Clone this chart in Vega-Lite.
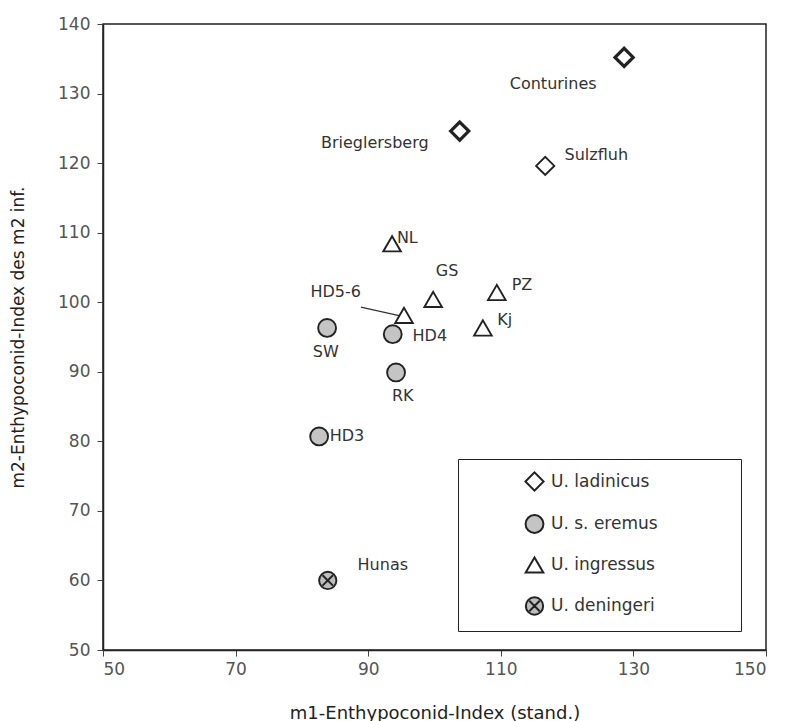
{
  "$schema": "https://vega.github.io/schema/vega-lite/v6.json",
  "width": 663,
  "height": 626,
  "autosize": "none",
  "padding": {"left": 103, "top": 24, "right": 22, "bottom": 71},
  "background": "white",
  "config": {
    "view": {"stroke": "#222", "strokeWidth": 1.5},
    "font": "DejaVu Sans",
    "axis": {
      "grid": false,
      "domainColor": "#222",
      "domainWidth": 1.5,
      "tickColor": "#444",
      "tickSize": 6,
      "labelColor": "#555",
      "labelFontSize": 17,
      "labelFont": "DejaVu Sans",
      "titleColor": "#222",
      "titleFont": "DejaVu Sans",
      "titleFontWeight": "normal"
    }
  },
  "datasets": {
    "pts": [
      {"site": "Conturines", "species": "U. ladinicus", "m1": 128.6, "m2": 135.2, "lx": 117.9, "ly": 131.4},
      {"site": "Brieglersberg", "species": "U. ladinicus", "m1": 103.8, "m2": 124.6, "lx": 91.0, "ly": 122.9},
      {"site": "Sulzfluh", "species": "U. ladinicus", "m1": 116.7, "m2": 119.6, "lx": 124.4, "ly": 121.2},
      {"site": "NL", "species": "U. ingressus", "m1": 93.6, "m2": 108.4, "lx": 95.9, "ly": 109.2},
      {"site": "GS", "species": "U. ingressus", "m1": 99.8, "m2": 100.4, "lx": 101.9, "ly": 104.5},
      {"site": "PZ", "species": "U. ingressus", "m1": 109.4, "m2": 101.4, "lx": 113.2, "ly": 102.5},
      {"site": "HD5-6", "species": "U. ingressus", "m1": 95.4, "m2": 98.1, "lx": 85.1, "ly": 101.5},
      {"site": "Kj", "species": "U. ingressus", "m1": 107.3, "m2": 96.3, "lx": 110.6, "ly": 97.4},
      {"site": "SW", "species": "U. s. eremus", "m1": 83.8, "m2": 96.3, "lx": 83.6, "ly": 92.8},
      {"site": "HD4", "species": "U. s. eremus", "m1": 93.7, "m2": 95.4, "lx": 99.3, "ly": 95.1},
      {"site": "RK", "species": "U. s. eremus", "m1": 94.2, "m2": 89.9, "lx": 95.2, "ly": 86.5},
      {"site": "HD3", "species": "U. s. eremus", "m1": 82.6, "m2": 80.7, "lx": 86.8, "ly": 80.8},
      {"site": "Hunas", "species": "U. deningeri", "m1": 83.9, "m2": 60.0, "lx": 92.2, "ly": 62.2}
    ],
    "leaders": [
      {"site": "HD5-6", "x1": 88.9, "y1": 99.3, "x2": 95.0, "y2": 98.0}
    ]
  },
  "layer": [
    {
      "data": {"name": "leaders"},
      "mark": {"type": "rule", "color": "#333", "strokeWidth": 1.2},
      "encoding": {
        "x": {"field": "x1", "type": "quantitative", "scale": {"domain": [50, 150], "nice": false, "zero": false}},
        "y": {"field": "y1", "type": "quantitative", "scale": {"domain": [50, 140], "nice": false, "zero": false}},
        "x2": {"field": "x2"},
        "y2": {"field": "y2"}
      }
    },
    {
      "data": {"name": "pts"},
      "mark": {"type": "point", "filled": false, "opacity": 1},
      "encoding": {
        "x": {
          "field": "m1", "type": "quantitative",
          "scale": {"domain": [50, 150], "nice": false, "zero": false},
          "axis": {"values": [50, 70, 90, 110, 130, 150], "title": "m1-Enthypoconid-Index (stand.)", "titleFontSize": 18, "titleY": 54, "labelPadding": 5}
        },
        "y": {
          "field": "m2", "type": "quantitative",
          "scale": {"domain": [50, 140], "nice": false, "zero": false},
          "axis": {"values": [50, 60, 70, 80, 90, 100, 110, 120, 130, 140], "title": "m2-Enthypoconid-Index des m2 inf.", "titleFontSize": 17, "titleX": -85, "titleY": 313, "titleAngle": -90, "titleAlign": "center", "titleBaseline": "middle", "labelPadding": 7}
        },
        "shape": {
          "field": "species", "type": "nominal",
          "scale": {
            "domain": ["U. ladinicus", "U. s. eremus", "U. ingressus", "U. deningeri"],
            "range": ["diamond", "circle", "triangle-up", "M-1,0A1,1,0,1,1,1,0A1,1,0,1,1,-1,0Z M-0.6,-0.6L0.6,0.6M-0.6,0.6L0.6,-0.6"]
          },
          "legend": {
            "title": "MMMM",
            "titleOrient": "right",
            "titleColor": "white",
            "titleFontSize": 16,
            "titlePadding": 7,
            "orient": "none",
            "legendX": 355,
            "legendY": 435,
            "strokeColor": "#222",
            "fillColor": "white",
            "padding": 12,
            "symbolOffset": 54,
            "symbolStrokeWidth": 2,
            "symbolStrokeColor": "#222",
            "labelFontSize": 17,
            "labelColor": "#333",
            "labelOffset": 6,
            "rowPadding": 16
          }
        },
        "fill": {
          "field": "species", "type": "nominal",
          "scale": {
            "domain": ["U. ladinicus", "U. s. eremus", "U. ingressus", "U. deningeri"],
            "range": ["white", "#c4c4c4", "white", "#bdbdbd"]
          }
        },
        "size": {
          "field": "species", "type": "nominal",
          "scale": {
            "domain": ["U. ladinicus", "U. s. eremus", "U. ingressus", "U. deningeri"],
            "range": [330, 300, 135, 220]
          }
        },
        "stroke": {"value": "#222"},
        "strokeWidth": {
          "condition": {"test": "datum.site === 'Conturines' || datum.site === 'Brieglersberg'", "value": 3.2},
          "value": 1.9
        }
      }
    },
    {
      "data": {"name": "pts"},
      "mark": {"type": "text", "fontSize": 16, "color": "#333", "align": "center", "baseline": "middle"},
      "encoding": {
        "x": {"field": "lx", "type": "quantitative"},
        "y": {"field": "ly", "type": "quantitative"},
        "text": {"field": "site"}
      }
    }
  ]
}
